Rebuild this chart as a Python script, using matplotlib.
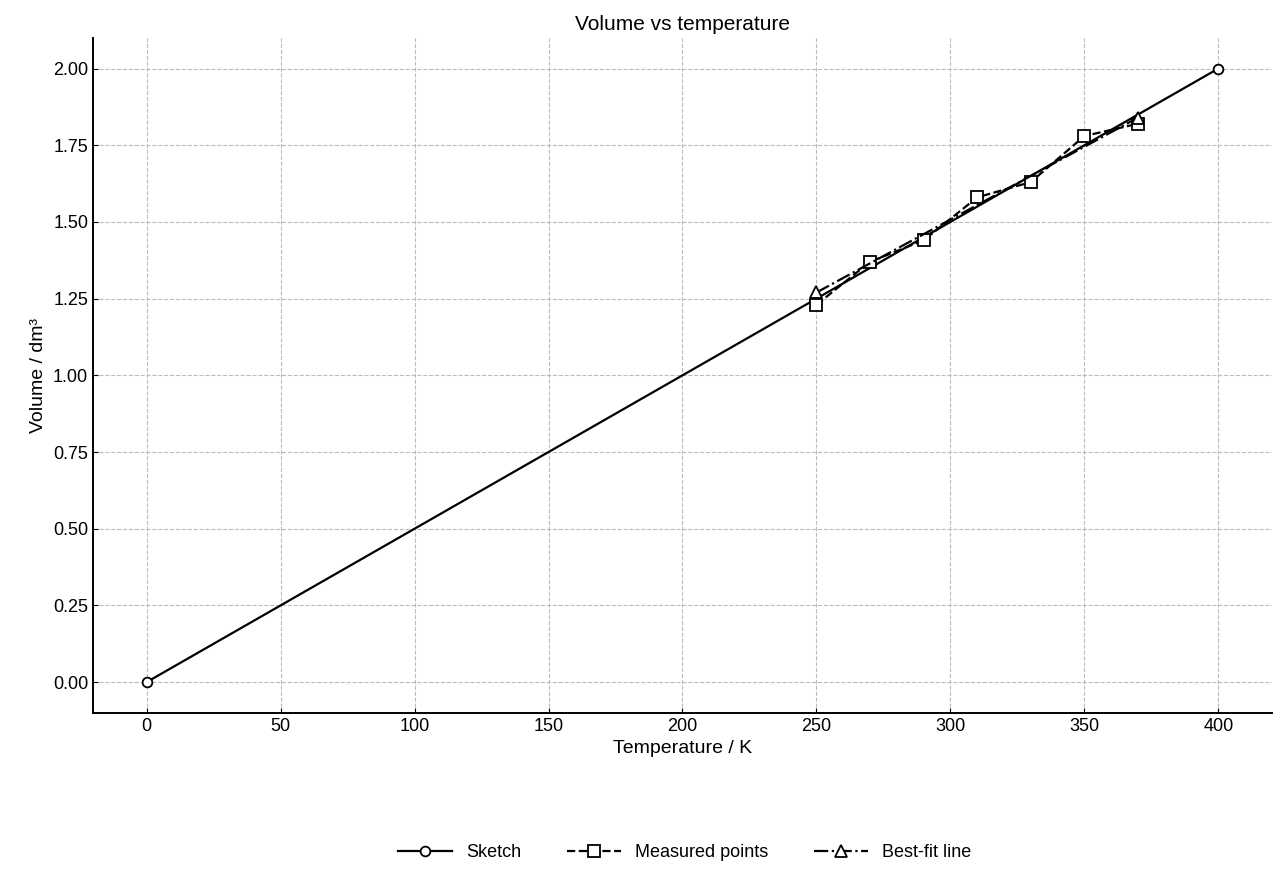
import matplotlib
matplotlib.use("Agg")
import matplotlib.pyplot as plt

plt.rcParams['font.family'] = ['Liberation Sans', 'DejaVu Sans']
plt.rcParams['font.size'] = 13

sketch_T = [0, 400]
sketch_V = [0.0, 2.0]
meas_T = [250, 270, 290, 310, 330, 350, 370]
meas_V = [1.23, 1.37, 1.44, 1.58, 1.63, 1.78, 1.82]
fit_T = [250, 370]
fit_V = [1.27, 1.84]

fig = plt.figure(figsize=(12.8, 8.8), dpi=100)
ax = fig.add_axes([0.0727, 0.19, 0.921, 0.767])
ax.plot(sketch_T, sketch_V, '-', color='black', lw=1.6, marker='o', ms=7, mfc='white', mec='black', mew=1.3, label='Sketch')
ax.plot(meas_T, meas_V, '--', color='black', lw=1.6, marker='s', ms=8, mfc='white', mec='black', mew=1.3, label='Measured points')
ax.plot(fit_T, fit_V, '-.', color='black', lw=1.6, marker='^', ms=8, mfc='white', mec='black', mew=1.3, label='Best-fit line')
ax.set_xlim(-20, 420)
ax.set_ylim(-0.1, 2.1)
ax.set_xticks(range(0, 401, 50))
ax.set_yticks([0, 0.25, 0.5, 0.75, 1.0, 1.25, 1.5, 1.75, 2.0])
ax.yaxis.set_major_formatter(matplotlib.ticker.FormatStrFormatter('%.2f'))
ax.grid(True, ls='--', color='#bbbbbb', lw=0.8)
ax.set_axisbelow(True)
for s in ['top', 'right']:
    ax.spines[s].set_visible(False)
for s in ['left', 'bottom']:
    ax.spines[s].set_linewidth(1.4)
ax.tick_params(direction='in', labelsize=13)
ax.set_xlabel('Temperature / K', fontsize=14)
ax.set_ylabel('Volume / dm³', fontsize=14)
ax.set_title('Volume vs temperature', fontsize=15)
fig.legend(loc='center', bbox_to_anchor=(0.535, 0.031), ncol=3, frameon=False, fontsize=13, handlelength=3, columnspacing=2.5)
fig.savefig('out.png', dpi=100)
